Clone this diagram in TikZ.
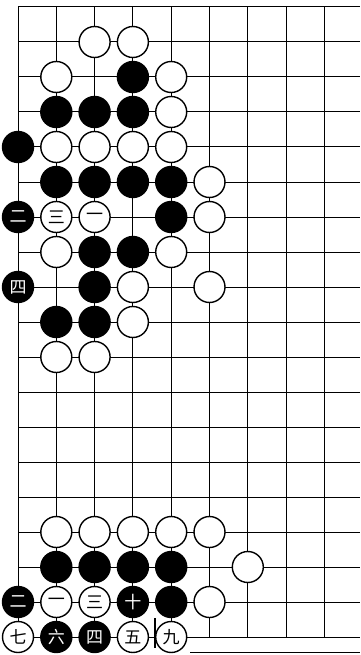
\documentclass[tikz,border=0pt]{standalone}
\usepackage{fontspec}
\newfontfamily\cjk{Noto Sans CJK SC}
\begin{document}
\begin{tikzpicture}[x=1pt,y=-1pt,
  gridline/.style={line width=1pt, black},
  stonebase/.style={circle, line width=1.4pt, minimum size=31pt, inner sep=0pt, font=\cjk\fontsize{17}{17}\selectfont},
  wst/.style={stonebase, draw=black, fill=white, text=black},
  bst/.style={stonebase, draw=black, fill=black, text=white}]
\useasboundingbox (0,0) rectangle (360,655);
% board grid
\foreach \c in {0,...,8}
  \draw[gridline] ({18+38.3*\c},7) -- ({18+38.3*\c},637);
\foreach \r in {0,...,18}
  \draw[gridline] (18,{7+35*\r}) -- (360,{7+35*\r});
% bottom border and bar
\coordinate (bl) at (190,652);
\coordinate (br) at (360,652);
\draw[line width=1pt] (bl) -- (br);
\coordinate (bart) at (155,618);
\coordinate (barb) at (155,648);
\draw[line width=2pt] (bart) -- (barb);
% white stones (plain)
\foreach \c/\r in {2/1,3/1, 1/2,4/2, 4/3, 1/4,2/4,3/4,4/4, 5/5, 5/6, 1/7,4/7, 3/8,5/8, 3/9, 1/10,2/10,
  1/15,2/15,3/15,4/15,5/15, 6/16, 5/17}
  \node[wst] (w\c-\r) at ({18+38.3*\c},{7+35*\r}) {};
% black stones (plain)
\foreach \c/\r in {3/2, 1/3,2/3,3/3, 0/4, 1/5,2/5,3/5,4/5, 4/6, 2/7,3/7, 2/8, 1/9,2/9,
  1/16,2/16,3/16,4/16, 4/17}
  \node[bst] (b\c-\r) at ({18+38.3*\c},{7+35*\r}) {};
% numbered stones, upper diagram
\node[bst] (b0-6) at ({18+38.3*0},{7+35*6}) {二};
\node[wst] (w1-6) at ({18+38.3*1},{7+35*6}) {三};
\node[wst] (w2-6) at ({18+38.3*2},{7+35*6}) {一};
\node[bst] (b0-8) at ({18+38.3*0},{7+35*8}) {四};
% numbered stones, lower diagram
\node[bst] (b0-17) at ({18+38.3*0},{7+35*17}) {二};
\node[wst] (w1-17) at ({18+38.3*1},{7+35*17}) {一};
\node[wst] (w2-17) at ({18+38.3*2},{7+35*17}) {三};
\node[bst] (b3-17) at ({18+38.3*3},{7+35*17}) {十};
\node[wst] (w0-18) at ({18+38.3*0},{7+35*18}) {七};
\node[bst] (b1-18) at ({18+38.3*1},{7+35*18}) {六};
\node[bst] (b2-18) at ({18+38.3*2},{7+35*18}) {四};
\node[wst] (w3-18) at ({18+38.3*3},{7+35*18}) {五};
\node[wst] (w4-18) at ({18+38.3*4},{7+35*18}) {九};
\end{tikzpicture}
\end{document}
